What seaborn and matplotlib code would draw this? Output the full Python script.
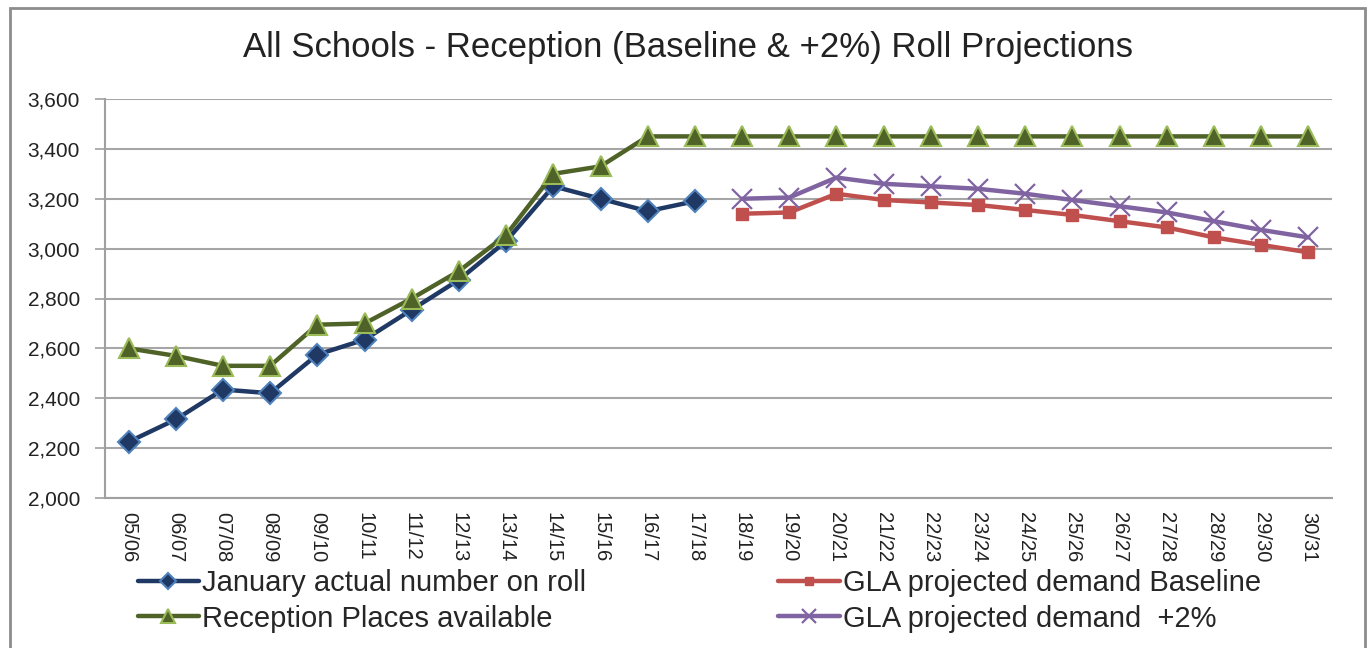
import numpy as np
import pandas as pd
import matplotlib
matplotlib.use("Agg")
import matplotlib.pyplot as plt
from matplotlib.patches import Rectangle
from matplotlib.lines import Line2D
import seaborn as sns

categories = ["05/06", "06/07", "07/08", "08/09", "09/10", "10/11", "11/12", "12/13",
              "13/14", "14/15", "15/16", "16/17", "17/18", "18/19", "19/20", "20/21",
              "21/22", "22/23", "23/24", "24/25", "25/26", "26/27", "27/28", "28/29",
              "29/30", "30/31"]

actual_cats = categories[:13]
actual_vals = [2225, 2315, 2435, 2420, 2575, 2635, 2755, 2875, 3030, 3250, 3200, 3150, 3190]

places_cats = categories
places_vals = [2600, 2570, 2530, 2530, 2695, 2700, 2800, 2910, 3055, 3300, 3330,
               3450, 3450, 3450, 3450, 3450, 3450, 3450, 3450, 3450, 3450, 3450,
               3450, 3450, 3450, 3450]

base_cats = categories[13:]
base_vals = [3140, 3145, 3220, 3195, 3185, 3175, 3155, 3135, 3110, 3085, 3045, 3015, 2985]

plus2_cats = categories[13:]
plus2_vals = [3200, 3205, 3285, 3260, 3250, 3240, 3220, 3195, 3170, 3145, 3110, 3075, 3045]

title = "All Schools - Reception (Baseline & +2%) Roll Projections"
labels = ["January actual number on roll", "Reception Places available",
          "GLA projected demand Baseline", "GLA projected demand  +2%"]

sns.set_theme(style="white")
plt.rcParams['font.family'] = ['Liberation Sans', 'DejaVu Sans']

pos = {c: i for i, c in enumerate(categories)}

def frame(cats, vals):
    return pd.DataFrame({"x": [pos[c] for c in cats], "y": vals})

fig = plt.figure(figsize=(13.71, 6.48), dpi=100)
fig.patch.set_facecolor("white")
ax = fig.add_axes([105 / 1371, 1 - 498 / 648, (1332 - 105) / 1371, (498 - 99) / 648])

# outer chart frame
fig.add_artist(Rectangle((10 / 1371, -0.05), (1365 - 10) / 1371, 1.05 - 8 / 648,
                         transform=fig.transFigure, fill=False, edgecolor="#8c8c8c",
                         linewidth=2.0, zorder=0))

styles = [
    (actual_cats, actual_vals, "#1F3864", "D", "#1F3864", "#4F81BD", 11, 1.5),
    (places_cats, places_vals, "#4F6228", "^", "#4F6228", "#9BBB59", 14, 1.5),
    (base_cats, base_vals, "#C0504D", "s", "#C0504D", "#C0504D", 8.5, 1.0),
    (plus2_cats, plus2_vals, "#8064A2", "x", "#8064A2", "#8064A2", 14, 1.6),
]

handles = []
for (cats, vals, col, mk, mfc, mec, ms, mew), lab in zip(styles, labels):
    df = frame(cats, vals)
    sns.lineplot(data=df, x="x", y="y", ax=ax, color=col, linewidth=3.2,
                 marker=mk, markersize=ms, markerfacecolor=mfc, markeredgecolor=mec,
                 markeredgewidth=mew, legend=False, zorder=3)
    handles.append(Line2D([0], [0], color=col, linewidth=3.2, marker=mk,
                          markersize=ms * 0.7, markerfacecolor=mfc,
                          markeredgecolor=mec, markeredgewidth=mew, label=lab))

ax.set_xlim(-0.5, len(categories) - 0.5)
ax.set_ylim(2000, 3600)
ax.set_yticks(np.arange(2000, 3601, 200))
ax.set_yticklabels([f"{v:,}" for v in range(2000, 3601, 200)], fontsize=15, color="#222222")
ax.set_xticks(range(len(categories)))
ax.set_xticklabels(categories, rotation=270, fontsize=14.5, color="#222222")
ax.set_xticks(np.arange(-0.5, len(categories), 1.0), minor=True)
ax.tick_params(axis="x", which="major", length=0, pad=10)
ax.tick_params(axis="x", which="minor", length=7, width=1.2, color="#a0a0a0", direction="out")
ax.tick_params(axis="y", which="major", length=7, width=1.2, color="#a0a0a0",
               direction="out", pad=11, left=True)
ax.set_xlabel("")
ax.set_ylabel("")
ax.grid(axis="y", color="#a6a6a6", linewidth=1.5)
ax.grid(axis="x", visible=False)
ax.set_axisbelow(True)
for side in ["top", "right"]:
    ax.spines[side].set_visible(False)
for side in ["left", "bottom"]:
    ax.spines[side].set_color("#a0a0a0")
    ax.spines[side].set_linewidth(1.5)

fig.text(0.502, 1 - 47 / 648, title, ha="center", va="center", fontsize=25, color="#222222")

fig.legend(handles=handles, ncol=2, loc="center left",
           bbox_to_anchor=(126 / 1371, 1 - 601 / 648),
           frameon=False, fontsize=21, handlelength=2.1, handletextpad=0.1,
           columnspacing=6.6, labelspacing=0.25, borderaxespad=0)

fig.savefig("out.png", dpi=100, facecolor="white")
